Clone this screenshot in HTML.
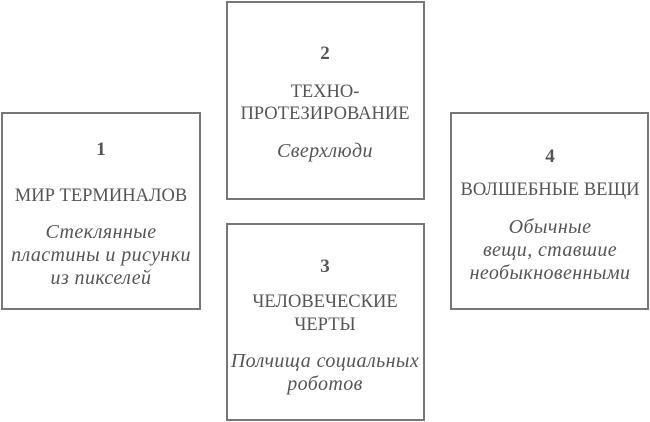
<!DOCTYPE html>
<html><head><meta charset="utf-8"><style>
body{margin:0;width:650px;height:422px;background:#fff;position:relative;overflow:hidden;font-family:"Liberation Serif",serif;color:#555;}
.b{position:absolute;border:2px solid #777;box-sizing:border-box;}
.t{position:absolute;width:196px;text-align:center;font-size:18.5px;line-height:22px;white-space:nowrap;}
.n{font-weight:bold;font-size:19px;}
.i{font-style:italic;font-size:20px;letter-spacing:0.4px;}
</style></head><body>
<div class="b" style="left:1px;top:112px;width:200px;height:198px"></div>
<div class="b" style="left:226px;top:1px;width:199px;height:199px"></div>
<div class="b" style="left:226px;top:223px;width:199px;height:198px"></div>
<div class="b" style="left:450px;top:112px;width:199px;height:198px"></div>

<div class="t n" style="left:3px;top:139px">1</div>
<div class="t" style="left:3px;top:185px">МИР ТЕРМИНАЛОВ</div>
<div class="t i" style="left:3px;top:221px">Стеклянные</div>
<div class="t i" style="left:3px;top:244px">пластины и рисунки</div>
<div class="t i" style="left:3px;top:267px">из пикселей</div>

<div class="t n" style="left:227px;top:43px">2</div>
<div class="t" style="left:227px;top:81px">ТЕХНО-</div>
<div class="t" style="left:227px;top:103px">ПРОТЕЗИРОВАНИЕ</div>
<div class="t i" style="left:227px;top:140px">Сверхлюди</div>

<div class="t n" style="left:227px;top:256px">3</div>
<div class="t" style="left:227px;top:291px">ЧЕЛОВЕЧЕСКИЕ</div>
<div class="t" style="left:227px;top:314px">ЧЕРТЫ</div>
<div class="t i" style="left:227px;top:350px">Полчища социальных</div>
<div class="t i" style="left:227px;top:373px">роботов</div>

<div class="t n" style="left:452px;top:146px">4</div>
<div class="t" style="left:452px;top:179px">ВОЛШЕБНЫЕ ВЕЩИ</div>
<div class="t i" style="left:452px;top:216px">Обычные</div>
<div class="t i" style="left:452px;top:239px">вещи, ставшие</div>
<div class="t i" style="left:452px;top:262px">необыкновенными</div>
</body></html>
